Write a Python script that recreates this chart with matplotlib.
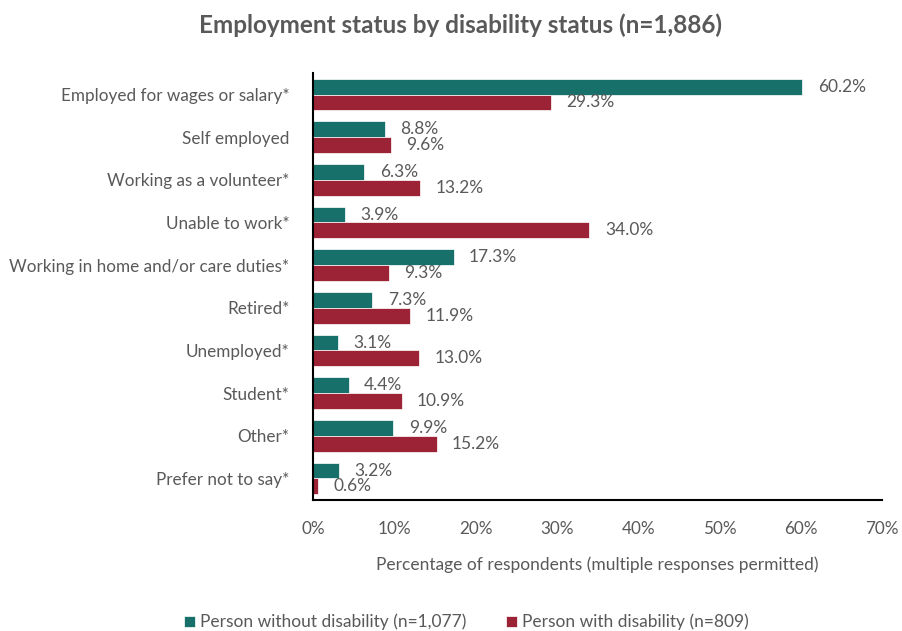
import numpy as np
import matplotlib
matplotlib.use('Agg')
import matplotlib.pyplot as plt
from matplotlib.ticker import FuncFormatter

plt.rcParams['font.family'] = ['Lato', 'DejaVu Sans']

categories = ['Employed for wages or salary*', 'Self employed', 'Working as a volunteer*',
              'Unable to work*', 'Working in home and/or care duties*', 'Retired*',
              'Unemployed*', 'Student*', 'Other*', 'Prefer not to say*']
without_disability = [60.2, 8.8, 6.3, 3.9, 17.3, 7.3, 3.1, 4.4, 9.9, 3.2]
with_disability = [29.3, 9.6, 13.2, 34.0, 9.3, 11.9, 13.0, 10.9, 15.2, 0.6]
series_names = ['Person without disability (n=1,077)', 'Person with disability (n=809)']

teal = '#17706A'
red = '#9B2335'
grey = '#595959'

fig = plt.figure(figsize=(9.02, 6.31), dpi=100)
ax = fig.add_axes([0.347, 0.208, 0.631, 0.676])

y = np.arange(len(categories))
h = 0.37
b1 = ax.barh(y - h / 2, without_disability, height=h, color=teal, edgecolor='white', linewidth=0.5,
             label=series_names[0])
b2 = ax.barh(y + h / 2, with_disability, height=h, color=red, edgecolor='white', linewidth=0.5,
             label=series_names[1])

for bars, vals in ((b1, without_disability), (b2, with_disability)):
    for bar, v in zip(bars, vals):
        ax.text(v + 1.9, bar.get_y() + bar.get_height() / 2, f'{v:.1f}%',
                va='center', ha='left', fontsize=12.5, color=grey)

ax.set_ylim(len(categories) - 0.5, -0.5)
ax.set_xlim(0, 70)
ax.set_xticks(range(0, 71, 10))
ax.xaxis.set_major_formatter(FuncFormatter(lambda v, p: f'{v:.0f}%'))
ax.set_yticks(y)
ax.set_yticklabels(categories)
ax.tick_params(axis='both', length=0, labelsize=12.3, labelcolor=grey)
ax.tick_params(axis='x', pad=15)
ax.tick_params(axis='y', pad=17)

for side in ('top', 'right'):
    ax.spines[side].set_visible(False)
for side in ('left', 'bottom'):
    ax.spines[side].set_color('black')
    ax.spines[side].set_linewidth(1.5)

ax.set_xlabel('Percentage of respondents (multiple responses permitted)', fontsize=12.5,
              color=grey, labelpad=14)

fig.suptitle('Employment status by disability status (n=1,886)', x=0.51, y=0.978,
             fontsize=17.5, fontweight='bold', color=grey)

fig.legend(handles=[b1, b2], loc='center', bbox_to_anchor=(0.517, 0.014), ncol=2,
           frameon=False, fontsize=12.5, labelcolor=grey, handlelength=0.6, handleheight=0.6,
           handletextpad=0.3, columnspacing=2.3)

fig.savefig('out.png', dpi=100)
